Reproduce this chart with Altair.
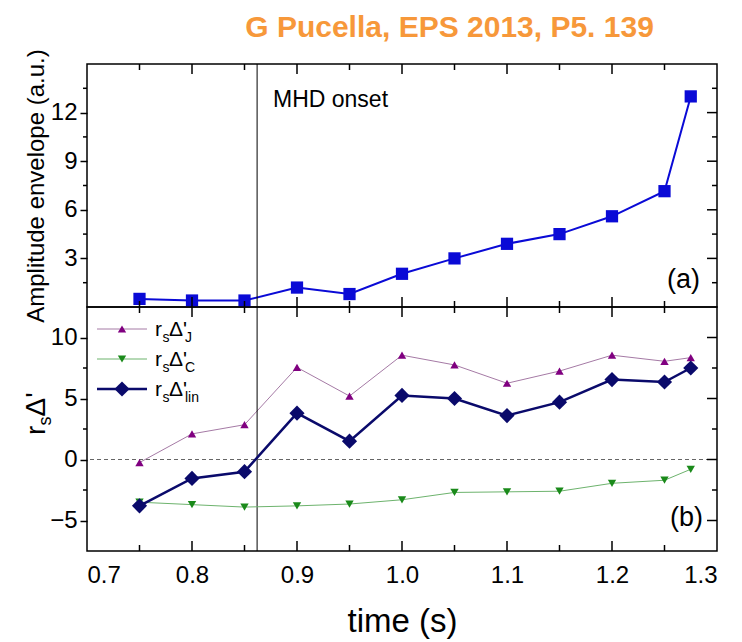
import altair as alt
import pandas as pd

# ---------------- data ----------------
times = [0.75, 0.80, 0.85, 0.90, 0.95, 1.00, 1.05, 1.10, 1.15, 1.20, 1.25, 1.275]
amplitude = [0.5, 0.4, 0.4, 1.2, 0.8, 2.05, 3.0, 3.9, 4.5, 5.6, 7.15, 13.0]
delta_J = [-0.25, 2.1, 2.85, 7.55, 5.2, 8.55, 7.75, 6.25, 7.25, 8.55, 8.05, 8.35]
delta_C = [-3.5, -3.7, -3.9, -3.8, -3.65, -3.3, -2.7, -2.65, -2.6, -1.95, -1.7, -0.8]
delta_lin = [-3.8, -1.55, -1.0, 3.8, 1.5, 5.25, 5.0, 3.6, 4.7, 6.55, 6.35, 7.5]
onset = [0.862]
zero = [0.0]

x_labels = [0.7, 0.8, 0.9, 1.0, 1.1, 1.2, 1.3]
x_major = [0.8, 0.9, 1.0, 1.1, 1.2]
x_minor = [0.75, 0.85, 0.95, 1.05, 1.15, 1.25]
y1_major = [3, 6, 9, 12]
y1_minor = [1.5, 4.5, 7.5, 10.5, 13.5]
y2_major = [-5, 0, 5, 10]
y2_minor = [-2.5, 2.5, 7.5]

W, H1, H2 = 630, 243, 244
FONT = "Liberation Sans"

df = pd.DataFrame({"t": times, "amp": amplitude, "J": delta_J, "C": delta_C, "lin": delta_lin})
one = pd.DataFrame({"k": [0]})

xs = alt.Scale(domain=[0.7, 1.3], nice=False, zero=False)
y1s = alt.Scale(domain=[0, 15], nice=False, zero=False)
y2s = alt.Scale(domain=[-7.5, 12.5], nice=False, zero=False)

# axes (identical objects reused in every layer so that they merge)
X_TOP = None
X_BOT = alt.Axis(values=x_labels, format=".1f", grid=False, domain=False, ticks=False,
                 labelFontSize=24, labelFont=FONT, labelColor="black", labelPadding=12,
                 title="time (s)", titleFontSize=33, titleFont=FONT, titleFontWeight="normal",
                 titleColor="black", titlePadding=18)
Y_TOP = alt.Axis(values=y1_major, grid=False, domain=False, ticks=True, tickSize=7,
                 tickWidth=1.5, tickColor="black", labelFontSize=24, labelFont=FONT,
                 labelColor="black", labelPadding=3, title="Amplitude envelope (a.u.)",
                 titleFontSize=24, titleFont=FONT, titleFontWeight="normal",
                 titleColor="black", titlePadding=2)
Y_BOT = alt.Axis(values=y2_major, grid=False, domain=False, ticks=True, tickSize=7,
                 tickWidth=1.5, tickColor="black", labelFontSize=24, labelFont=FONT,
                 labelColor="black", labelPadding=3, title=None)

FRAME = alt.ViewBackground(stroke="black", strokeWidth=1.5)


def tick_x(vals, xax, y0, y1):
    return alt.Chart(pd.DataFrame({"t": vals})).mark_rule(color="black", strokeWidth=1.5).encode(
        x=alt.X("t:Q", scale=xs, axis=xax), y=alt.value(y0), y2=alt.value(y1))


def tick_y(vals, field, scale, yax, x0, x1):
    return alt.Chart(pd.DataFrame({field: vals})).mark_rule(color="black", strokeWidth=1.5).encode(
        y=alt.Y(f"{field}:Q", scale=scale, axis=yax), x=alt.value(x0), x2=alt.value(x1))


def label(text, x, y, size, align="left", angle=0, color="black"):
    return alt.Chart(one).mark_text(text=text, font=FONT, fontSize=size, align=align,
                                    baseline="alphabetic", angle=angle, color=color).encode(
        x=alt.value(x), y=alt.value(y))


# ---------------- top panel ----------------
blue = "#0A0AD6"


def XT():
    return alt.X("t:Q", scale=xs, axis=X_TOP)


top_line = alt.Chart(df).mark_line(color=blue, strokeWidth=2).encode(
    x=XT(), y=alt.Y("amp:Q", scale=y1s, axis=Y_TOP))
top_pts = alt.Chart(df).mark_point(shape="square", filled=True, size=150, color=blue, opacity=1).encode(
    x=XT(), y=alt.Y("amp:Q", scale=y1s, axis=Y_TOP))
onset_top = alt.Chart(pd.DataFrame({"t": onset})).mark_rule(color="black", strokeWidth=1).encode(x=XT())

top = alt.layer(
    top_line, top_pts, onset_top,
    tick_x(x_major, X_TOP, 0, 10), tick_x(x_minor, X_TOP, 0, 6),
    tick_x(x_major, X_TOP, H1, H1 - 10), tick_x(x_minor, X_TOP, H1, H1 - 6),
    tick_y(y1_major, "amp", y1s, Y_TOP, W - 10, W), tick_y(y1_minor, "amp", y1s, Y_TOP, W - 5, W),
    tick_y(y1_minor, "amp", y1s, Y_TOP, -4, 0),
    label("MHD onset", 186, 43, 23),
    label("(a)", 613, 224, 27, align="right"),
).properties(width=W, height=H1, view=FRAME)

# ---------------- bottom panel ----------------
purple, purple_line = "#800080", "#A57AA5"
green, green_line = "#1A8A1A", "#6DB36D"
navy = "#0A0A6B"


def XB():
    return alt.X("t:Q", scale=xs, axis=X_BOT)


def YB(field):
    return alt.Y(f"{field}:Q", scale=y2s, axis=Y_BOT)


zero_rule = alt.Chart(pd.DataFrame({"J": zero})).mark_rule(
    color="#666666", strokeWidth=1, strokeDash=[4, 3]).encode(y=YB("J"))
onset_bot = alt.Chart(pd.DataFrame({"t": onset})).mark_rule(color="black", strokeWidth=1).encode(x=XB())

J_line = alt.Chart(df).mark_line(color=purple_line, strokeWidth=1).encode(x=XB(), y=YB("J"))
J_pts = alt.Chart(df).mark_point(shape="triangle-up", filled=True, size=70, color=purple, opacity=1).encode(
    x=XB(), y=YB("J"))
C_line = alt.Chart(df).mark_line(color=green_line, strokeWidth=1).encode(x=XB(), y=YB("C"))
C_pts = alt.Chart(df).mark_point(shape="triangle-down", filled=True, size=70, color=green, opacity=1).encode(
    x=XB(), y=YB("C"))
L_line = alt.Chart(df).mark_line(color=navy, strokeWidth=2.5).encode(x=XB(), y=YB("lin"))
L_pts = alt.Chart(df).mark_point(shape="diamond", filled=True, size=230, color=navy, opacity=1).encode(
    x=XB(), y=YB("lin"))


def legend_row(yc, sub, color, line_color, line_width, shape, size):
    seg = alt.Chart(one).mark_rule(color=line_color, strokeWidth=line_width).encode(
        x=alt.value(10), x2=alt.value(60), y=alt.value(yc))
    sym = alt.Chart(one).mark_point(shape=shape, filled=True, size=size, color=color, opacity=1).encode(
        x=alt.value(35), y=alt.value(yc))
    return [seg, sym,
            label("r", 68, yc + 7, 21),
            label("s", 75.5, yc + 13, 14),
            label("Δ'", 82, yc + 7, 21),
            label(sub, 98, yc + 13, 14)]


legend_layers = (legend_row(22, "J", purple, purple_line, 1, "triangle-up", 70)
                 + legend_row(52, "C", green, green_line, 1, "triangle-down", 70)
                 + legend_row(82, "lin", navy, navy, 2.5, "diamond", 230))

ytitle = [label("r", -42, 128, 28, angle=270),
          label("s", -36, 118.5, 18, angle=270),
          label("Δ'", -42, 109.5, 28, angle=270)]

bottom = alt.layer(
    J_line, zero_rule, onset_bot, C_line, L_line, C_pts, J_pts, L_pts,
    tick_x(x_major, X_BOT, 0, 10), tick_x(x_minor, X_BOT, 0, 6),
    tick_x(x_major, X_BOT, H2, H2 - 10), tick_x(x_minor, X_BOT, H2, H2 - 6),
    tick_y(y2_major, "J", y2s, Y_BOT, W - 10, W), tick_y(y2_minor, "J", y2s, Y_BOT, W - 5, W),
    tick_y(y2_minor, "J", y2s, Y_BOT, -4, 0),
    label("(b)", 616, 219, 27, align="right"),
    *legend_layers, *ytitle,
).properties(width=W, height=H2, view=FRAME)

chart = alt.vconcat(top, bottom, spacing=0, bounds="flush").properties(
    title=alt.TitleParams("G Pucella, EPS 2013, P5. 139", font=FONT, fontSize=30, fontWeight="bold",
                          color="#F7983A", anchor="start", dx=223, offset=5),
    padding={"left": 14, "top": 5, "right": 5, "bottom": 5},
).configure(font=FONT).configure_view(stroke="black", strokeWidth=1.5)

chart.save("out.html", embed_options={"renderer": "svg", "actions": False})
